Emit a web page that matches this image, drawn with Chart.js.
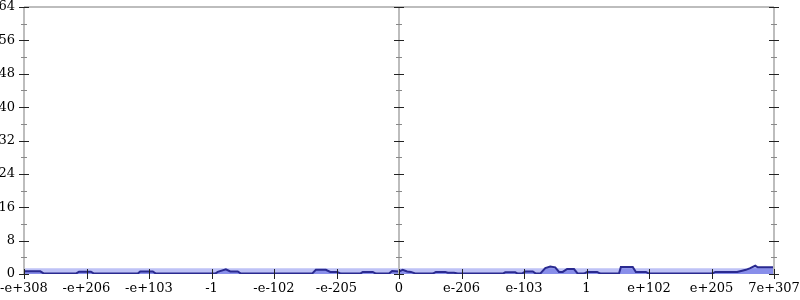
<!DOCTYPE html>
<html>
<head>
<meta charset="utf-8">
<script src="https://cdn.jsdelivr.net/npm/chart.js@4"></script>
<style>
  body { margin: 0; background: #fff; }
  #wrap { width: 800px; height: 300px; }
</style>
</head>
<body>
<div id="wrap"><canvas id="chart"></canvas></div>
<script>
// tick labels for x positions -6..6
const xTickLabels = ['-e+308', '-e+206', '-e+103', '-1', '-e-102', '-e-205', '0',
  'e-206', 'e-103', '1', 'e+102', 'e+205', '7e+307'];

// counts per bucket
const countX = [-6.0, -5.74, -5.68, -5.17, -5.12, -4.93, -4.88, -4.18, -4.14, -3.94, -3.89,
  -2.94, -2.9, -2.77, -2.7, -2.58, -2.53, -1.39, -1.33, -1.17, -1.1, -0.99, -0.93,
  -0.62, -0.58, -0.42, -0.37, -0.16, -0.11, 0, 0.06, 0.13, 0.19, 0.27,
  0.54, 0.59, 0.74, 0.78, 0.88, 0.94, 1.66, 1.7, 1.86, 1.9, 1.97, 2.02, 2.14, 2.19,
  2.26, 2.34, 2.42, 2.5, 2.56, 2.62, 2.69, 2.8, 2.86, 2.96, 3.01, 3.17, 3.22,
  3.52, 3.55, 3.74, 3.79, 3.95, 4.0, 5.01, 5.06, 5.41, 5.49, 5.55, 5.62, 5.7, 5.74, 5.81, 6.0];
const countY = [0.65, 0.65, 0.1, 0.1, 0.55, 0.55, 0.1, 0.1, 0.6, 0.6, 0.1,
  0.1, 0.5, 1.1, 0.6, 0.6, 0.1, 0.1, 1.0, 1.0, 0.5, 0.5, 0.1,
  0.1, 0.5, 0.5, 0.1, 0.1, 0.7, 0.6, 1.0, 0.6, 0.5, 0.1,
  0.1, 0.5, 0.5, 0.3, 0.3, 0.1, 0.1, 0.4, 0.4, 0.1, 0.1, 0.6, 0.6, 0.1,
  0.1, 1.4, 1.8, 1.6, 0.5, 0.5, 1.2, 1.2, 0.1, 0.1, 0.5, 0.5, 0.1,
  0.1, 1.7, 1.7, 0.5, 0.5, 0.1, 0.1, 0.5, 0.5, 0.8, 1.0, 1.4, 2.0, 1.6, 1.6, 1.6];

// light background band
const bandX = [-6, 6];
const bandY = [1.35, 1.35];

const yTicks = [0, 8, 16, 24, 32, 40, 48, 56, 64];

const axisPlugin = {
  id: 'crossAxes',
  afterDatasetsDraw(chart) {
    const { ctx, chartArea: a, scales: { x, y } } = chart;
    const axesX = [x.getPixelForValue(-6), x.getPixelForValue(0), x.getPixelForValue(6)];
    ctx.save();
    ctx.strokeStyle = '#bdbdbd';
    ctx.lineWidth = 2;
    ctx.beginPath();
    ctx.moveTo(a.left, a.top); ctx.lineTo(a.right, a.top);
    axesX.forEach(px => { ctx.moveTo(px, a.top); ctx.lineTo(px, a.bottom); });
    ctx.stroke();
    // y ticks on every vertical axis
    ctx.lineWidth = 1;
    for (let v = 0; v <= 64; v += 4) {
      const py = Math.round(y.getPixelForValue(v)) + 0.5;
      const major = v % 8 === 0;
      ctx.strokeStyle = major ? '#222' : '#888';
      const len = major ? 5 : 3;
      ctx.beginPath();
      axesX.forEach(px => { ctx.moveTo(px - len, py); ctx.lineTo(px + len, py); });
      ctx.stroke();
    }
    // x ticks
    ctx.strokeStyle = '#222';
    ctx.beginPath();
    for (let v = -6; v <= 6; v++) {
      const px = Math.round(x.getPixelForValue(v)) + 0.5;
      ctx.moveTo(px, a.bottom - 5); ctx.lineTo(px, a.bottom + 5);
    }
    ctx.stroke();
    ctx.restore();
  }
};

const font = { family: 'DejaVu Serif', size: 13 };

new Chart(document.getElementById('chart'), {
  type: 'line',
  data: {
    datasets: [{
      data: countX.map((v, i) => ({ x: v, y: countY[i] })),
      borderColor: '#2a2a90',
      borderWidth: 2,
      backgroundColor: 'rgba(70, 80, 220, 0.45)',
      fill: 'origin',
      pointRadius: 0,
      tension: 0
    }, {
      data: bandX.map((v, i) => ({ x: v, y: bandY[i] })),
      borderWidth: 0,
      borderColor: 'rgba(0,0,0,0)',
      backgroundColor: 'rgba(110, 120, 235, 0.45)',
      fill: 'origin',
      pointRadius: 0
    }]
  },
  options: {
    responsive: true,
    maintainAspectRatio: false,
    animation: false,
    layout: { padding: 0 },
    plugins: { legend: { display: false }, tooltip: { enabled: false } },
    scales: {
      x: {
        type: 'linear',
        min: -6, max: 6,
        grid: { display: false, drawTicks: false },
        border: { display: false },
        afterBuildTicks: s => { s.ticks = xTickLabels.map((t, i) => ({ value: i - 6 })); },
        afterFit: s => { s.height = 26; s.paddingLeft = 0; s.paddingRight = 26; },
        ticks: {
          autoSkip: false, maxRotation: 0, padding: 7, color: '#000', font,
          callback: v => xTickLabels[v + 6]
        }
      },
      y: {
        min: 0, max: 64,
        grid: { display: false, drawTicks: false },
        border: { display: false },
        afterBuildTicks: s => { s.ticks = yTicks.map(v => ({ value: v })); },
        afterFit: s => { s.width = 24; s.paddingTop = 7; s.paddingBottom = 0; },
        ticks: { padding: 9, color: '#000', font }
      }
    }
  },
  plugins: [axisPlugin]
});
</script>
</body>
</html>
